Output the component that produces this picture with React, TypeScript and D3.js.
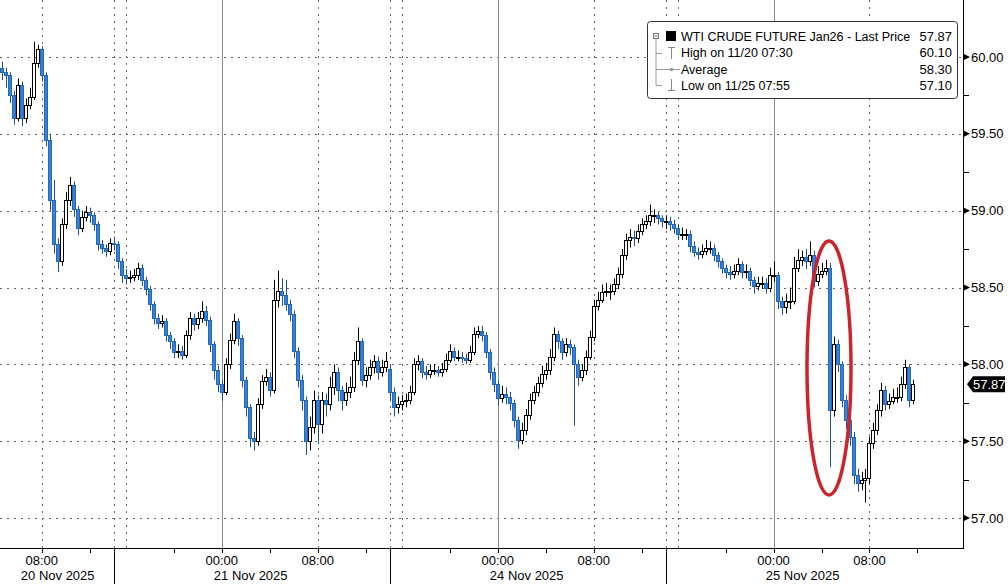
import React from 'react';
import * as d3 from 'd3';

// ---------- DATA ----------
// 20-minute bars, open = previous close
const S1_START = new Date(2025, 10, 20, 4, 20);
const S1_OPEN = 59.95;
const S1_CLOSE = [59.93, 59.90, 59.88, 59.75, 59.60, 59.82, 59.60, 59.69, 59.74, 59.96, 60.05, 59.88, 59.46, 59.07, 58.78, 58.67, 58.91, 59.07, 59.17, 59.01, 58.89, 58.96, 58.99, 58.97, 58.91, 58.78, 58.76, 58.74, 58.79];
const S1_HIGH = [59.99, 59.97, 59.93, 59.90, 59.78, 59.86, 59.84, 59.73, 59.80, 60.10, 60.08, 60.07, 59.90, 59.50, 59.20, 58.82, 58.95, 59.12, 59.22, 59.19, 59.03, 59.00, 59.03, 59.02, 58.99, 58.93, 58.81, 58.78, 58.82];
const S1_LOW = [59.88, 59.85, 59.80, 59.70, 59.56, 59.58, 59.55, 59.57, 59.66, 59.72, 59.93, 59.84, 59.42, 59.00, 58.72, 58.60, 58.64, 58.88, 59.03, 58.96, 58.84, 58.86, 58.93, 58.92, 58.87, 58.74, 58.72, 58.70, 58.71];

const S2_START = new Date(2025, 10, 20, 15, 0);
const S2_OPEN = 58.79;
const S2_CLOSE = [58.78, 58.67, 58.58, 58.56, 58.57, 58.58, 58.63, 58.55, 58.49, 58.39,
  58.30, 58.27, 58.28, 58.19, 58.15, 58.08, 58.09, 58.06, 58.19, 58.30,
  58.26, 58.30, 58.35, 58.29, 58.13, 57.96, 57.87, 57.82, 58.00, 58.16,
  58.28, 58.17, 57.90, 57.72, 57.52, 57.50, 57.74, 57.89, 57.92, 57.83,
  58.42, 58.48, 58.45, 58.39, 58.33, 58.09, 57.90, 57.77, 57.50, 57.59,
  57.77, 57.61, 57.77, 57.74, 57.85, 57.95, 57.83, 57.77, 57.82, 57.85,
  58.03, 58.15, 57.90, 57.93, 57.98, 58.02, 57.95, 57.98, 58.02];
const S2_HIGH = [58.83, 58.80, 58.69, 58.62, 58.61, 58.62, 58.66, 58.65, 58.57, 58.51,
  58.41, 58.33, 58.32, 58.30, 58.21, 58.17, 58.13, 58.12, 58.22, 58.34,
  58.33, 58.34, 58.41, 58.38, 58.31, 58.15, 57.99, 57.90, 58.04, 58.20,
  58.33, 58.30, 58.19, 57.92, 57.74, 57.56, 57.78, 57.93, 57.97, 57.95,
  58.55, 58.61, 58.56, 58.55, 58.42, 58.35, 58.11, 57.93, 57.79, 57.66,
  57.83, 57.80, 57.82, 57.81, 57.92, 58.00, 57.98, 57.86, 57.88, 57.92,
  58.08, 58.24, 58.17, 57.98, 58.03, 58.06, 58.05, 58.03, 58.08];
const S2_LOW = [58.74, 58.62, 58.53, 58.52, 58.53, 58.54, 58.55, 58.51, 58.45, 58.35,
  58.26, 58.23, 58.24, 58.15, 58.10, 58.04, 58.04, 58.03, 58.04, 58.16,
  58.22, 58.23, 58.27, 58.25, 58.08, 57.90, 57.82, 57.76, 57.80, 57.97,
  58.13, 58.12, 57.85, 57.66, 57.46, 57.44, 57.47, 57.71, 57.86, 57.79,
  57.81, 58.37, 58.38, 58.35, 58.28, 58.04, 57.85, 57.70, 57.41, 57.44,
  57.55, 57.48, 57.55, 57.66, 57.70, 57.80, 57.76, 57.70, 57.73, 57.78,
  57.82, 58.00, 57.86, 57.85, 57.90, 57.94, 57.90, 57.92, 57.95];

const S3_START = new Date(2025, 10, 23, 15, 0);
const S3_OPEN = 57.97;
const S3_CLOSE = [57.82, 57.72, 57.74, 57.76, 57.77, 57.82, 58.00, 58.02, 57.95, 57.94,
  57.96, 57.96, 57.95, 57.97, 58.03, 58.09, 58.05, 58.05, 58.04, 58.03,
  58.08, 58.20, 58.22, 58.19, 58.08, 57.95, 57.87, 57.78, 57.81, 57.79,
  57.75, 57.64, 57.51, 57.57, 57.67, 57.77, 57.82, 57.88, 57.94, 57.96,
  58.05, 58.20, 58.15, 58.08, 58.13, 58.11, 58.00, 57.92, 57.96, 58.05,
  58.18, 58.38, 58.42, 58.47, 58.48, 58.48, 58.52, 58.59, 58.71, 58.81,
  58.83, 58.82, 58.87, 58.91, 58.93, 58.97, 58.97, 58.95, 58.93];
const S3_HIGH = [58.00, 57.85, 57.79, 57.80, 57.81, 57.86, 58.04, 58.06, 58.04, 57.99,
  58.00, 58.00, 57.99, 58.01, 58.07, 58.13, 58.11, 58.09, 58.08, 58.07,
  58.12, 58.24, 58.25, 58.25, 58.21, 58.10, 57.98, 57.90, 57.86, 57.85,
  57.82, 57.77, 57.66, 57.62, 57.71, 57.81, 57.86, 57.92, 57.99, 58.01,
  58.10, 58.24, 58.22, 58.17, 58.17, 58.16, 58.13, 58.03, 58.00, 58.09,
  58.22, 58.42, 58.47, 58.52, 58.53, 58.52, 58.56, 58.63, 58.75, 58.85,
  58.88, 58.87, 58.91, 58.95, 58.97, 59.04, 59.01, 58.99, 58.97];
const S3_LOW = [57.76, 57.66, 57.68, 57.70, 57.72, 57.74, 57.80, 57.96, 57.91, 57.90,
  57.91, 57.93, 57.92, 57.92, 57.95, 58.01, 58.02, 58.02, 58.01, 58.00,
  58.01, 58.06, 58.17, 58.15, 58.04, 57.90, 57.82, 57.73, 57.75, 57.74,
  57.70, 57.59, 57.45, 57.48, 57.54, 57.64, 57.74, 57.79, 57.85, 57.90,
  57.93, 58.02, 58.10, 58.03, 58.05, 58.06, 57.60, 57.86, 57.89, 57.93,
  58.03, 58.15, 58.35, 58.40, 58.44, 58.42, 58.45, 58.49, 58.56, 58.68,
  58.76, 58.77, 58.79, 58.84, 58.88, 58.90, 58.92, 58.91, 58.89];

const S4_START = new Date(2025, 10, 24, 15, 0);
const S4_OPEN = 58.93;
const S4_CLOSE = [58.93, 58.91, 58.89, 58.85, 58.85, 58.85, 58.77, 58.73, 58.72, 58.74,
  58.76, 58.76, 58.71, 58.67, 58.63, 58.60, 58.59, 58.61, 58.65, 58.60,
  58.61, 58.55, 58.51, 58.53, 58.53, 58.50, 58.58, 58.58, 58.41, 58.37,
  58.41, 58.41, 58.63, 58.68, 58.70, 58.67, 58.71, 58.54, 58.59, 58.61,
  58.63, 57.70, 58.13, 58.00, 57.77, 57.64, 57.53, 57.28, 57.23, 57.25,
  57.26, 57.49, 57.57, 57.70, 57.83, 57.74, 57.76, 57.79, 57.79, 57.87,
  57.98, 57.77, 57.87];
const S4_HIGH = [58.97, 58.96, 58.94, 58.91, 58.89, 58.88, 58.87, 58.80, 58.76, 58.78,
  58.81, 58.80, 58.78, 58.73, 58.69, 58.65, 58.64, 58.65, 58.69, 58.67,
  58.65, 58.63, 58.57, 58.57, 58.57, 58.56, 58.63, 58.67, 58.60, 58.44,
  58.46, 58.50, 58.70, 58.75, 58.74, 58.75, 58.80, 58.74, 58.64, 58.66,
  58.68, 58.66, 58.18, 58.16, 58.02, 57.80, 57.67, 57.56, 57.32, 57.30,
  57.32, 57.53, 57.62, 57.74, 57.88, 57.86, 57.81, 57.84, 57.85, 57.92,
  58.03, 58.00, 57.90];
const S4_LOW = [58.88, 58.87, 58.85, 58.81, 58.81, 58.81, 58.73, 58.70, 58.68, 58.69,
  58.71, 58.72, 58.67, 58.63, 58.59, 58.56, 58.55, 58.56, 58.58, 58.56,
  58.56, 58.51, 58.46, 58.48, 58.49, 58.46, 58.47, 58.54, 58.36, 58.32,
  58.33, 58.36, 58.39, 58.60, 58.64, 58.62, 58.64, 58.50, 58.51, 58.56,
  58.58, 57.33, 57.66, 57.95, 57.72, 57.58, 57.47, 57.22, 57.17, 57.18,
  57.10, 57.22, 57.45, 57.54, 57.66, 57.70, 57.71, 57.74, 57.75, 57.76,
  57.84, 57.72, 57.74];

const BAR_MINUTES = 20;
const LAST_PRICE = 57.87;

const Y_MAJOR = [57.0, 57.5, 58.0, 58.5, 59.0, 59.5, 60.0];
const Y_MINOR = [57.25, 57.75, 58.25, 58.75, 59.25, 59.75];

// trading-time axis (session breaks removed)
const X_DOMAIN = [
  new Date(2025, 10, 20, 4, 30), new Date(2025, 10, 20, 14, 0),
  new Date(2025, 10, 20, 15, 0), new Date(2025, 10, 21, 14, 0),
  new Date(2025, 10, 23, 15, 0), new Date(2025, 10, 24, 14, 0),
  new Date(2025, 10, 24, 15, 0), new Date(2025, 10, 25, 15, 48),
];

const TIME_LABELS = [
  { t: new Date(2025, 10, 20, 8, 0), label: '08:00' },
  { t: new Date(2025, 10, 21, 0, 0), label: '00:00' },
  { t: new Date(2025, 10, 21, 8, 0), label: '08:00' },
  { t: new Date(2025, 10, 24, 0, 0), label: '00:00' },
  { t: new Date(2025, 10, 24, 8, 0), label: '08:00' },
  { t: new Date(2025, 10, 25, 0, 0), label: '00:00' },
  { t: new Date(2025, 10, 25, 8, 0), label: '08:00' },
];
const DATE_LABELS = [
  { t: new Date(2025, 10, 20, 9, 20), label: '20 Nov 2025' },
  { t: new Date(2025, 10, 21, 2, 25), label: '21 Nov 2025' },
  { t: new Date(2025, 10, 24, 2, 25), label: '24 Nov 2025' },
  { t: new Date(2025, 10, 25, 2, 25), label: '25 Nov 2025' },
];
const MIDNIGHTS = [new Date(2025, 10, 21, 0, 0), new Date(2025, 10, 24, 0, 0), new Date(2025, 10, 25, 0, 0)];
const DOTTED_V = [
  new Date(2025, 10, 20, 8, 0), new Date(2025, 10, 20, 14, 0), new Date(2025, 10, 20, 16, 0),
  new Date(2025, 10, 21, 8, 0), new Date(2025, 10, 21, 14, 0), new Date(2025, 10, 23, 16, 0),
  new Date(2025, 10, 24, 8, 0), new Date(2025, 10, 24, 14, 0), new Date(2025, 10, 24, 16, 0),
  new Date(2025, 10, 25, 8, 0),
];
const SESSION_BREAKS = [new Date(2025, 10, 20, 14, 0), new Date(2025, 10, 21, 14, 0), new Date(2025, 10, 24, 14, 0)];
const MINOR_X = [
  new Date(2025, 10, 20, 12, 0), new Date(2025, 10, 20, 20, 0), new Date(2025, 10, 21, 4, 0),
  new Date(2025, 10, 21, 12, 0), new Date(2025, 10, 23, 20, 0), new Date(2025, 10, 24, 4, 0),
  new Date(2025, 10, 24, 12, 0), new Date(2025, 10, 24, 20, 0), new Date(2025, 10, 25, 4, 0),
  new Date(2025, 10, 25, 12, 0),
];

const LEGEND_ROWS = [
  { label: 'WTI CRUDE FUTURE Jan26 - Last Price', value: '57.87' },
  { label: 'High on 11/20 07:30', value: '60.10' },
  { label: 'Average', value: '58.30' },
  { label: 'Low on 11/25 07:55', value: '57.10' },
];

const SESSIONS = [
  { start: S1_START, open: S1_OPEN, close: S1_CLOSE, high: S1_HIGH, low: S1_LOW },
  { start: S2_START, open: S2_OPEN, close: S2_CLOSE, high: S2_HIGH, low: S2_LOW },
  { start: S3_START, open: S3_OPEN, close: S3_CLOSE, high: S3_HIGH, low: S3_LOW },
  { start: S4_START, open: S4_OPEN, close: S4_CLOSE, high: S4_HIGH, low: S4_LOW },
];

// ---------- CHART ----------
const W = 1008, H = 584;
const PLOT_R = 963, PLOT_B = 548;
const FONT = '"Liberation Sans", Arial, sans-serif';
const BLUE = '#3583da';

type Bar = { t: Date; o: number; h: number; l: number; c: number };

function buildBars(): Bar[] {
  const bars: Bar[] = [];
  for (const s of SESSIONS) {
    let prev = s.open;
    s.close.forEach((c, i) => {
      bars.push({ t: d3.timeMinute.offset(s.start, BAR_MINUTES * i), o: prev, h: s.high[i], l: s.low[i], c });
      prev = c;
    });
  }
  return bars;
}

export default function App() {
  const x = d3.scaleTime<number>().domain(X_DOMAIN).range([-0.3, 113.7, 113.7, 389.7, 389.7, 665.7, 665.7, 963]);
  const y = d3.scaleLinear().domain([57, 60]).range([518, 57]);
  const bars = buildBars();
  const px = (v: number) => Math.round(v) + 0.5;

  const lastY = y(LAST_PRICE);

  return (
    <svg width={W} height={H} style={{ position: 'absolute', left: 0, top: 0, background: '#fff' }} fontFamily={FONT}>
      <defs>
        <clipPath id="plot"><rect x={0} y={0} width={PLOT_R} height={PLOT_B} /></clipPath>
      </defs>
      <rect x={0} y={0} width={W} height={H} fill="#fff" />
      {/* horizontal grid */}
      {Y_MAJOR.map((v) => (
        <line key={'hg' + v} x1={0} x2={PLOT_R} y1={px(y(v))} y2={px(y(v))} stroke="#666" strokeDasharray="2,5" />
      ))}
      {/* vertical grid */}
      {DOTTED_V.map((t, i) => (
        <line key={'vg' + i} x1={px(x(t))} x2={px(x(t))} y1={0} y2={PLOT_B} stroke="#666" strokeDasharray="2,5" />
      ))}
      {MIDNIGHTS.map((t, i) => (
        <line key={'mn' + i} x1={px(x(t))} x2={px(x(t))} y1={0} y2={PLOT_B} stroke="#8a8a8a" strokeWidth={1} />
      ))}

      {/* candles */}
      <g clipPath="url(#plot)">
        {bars.map((b, i) => {
          const cx = Math.round(x(b.t));
          const up = b.c >= b.o;
          const top = Math.round(y(Math.max(b.o, b.c)));
          const bot = Math.round(y(Math.min(b.o, b.c)));
          const hy = y(Math.max(b.h, b.o, b.c));
          const ly = y(Math.min(b.l, b.o, b.c));
          return (
            <g key={i}>
              <line x1={cx + 0.5} x2={cx + 0.5} y1={hy} y2={ly} stroke={up ? '#000' : '#1d4f94'} strokeWidth={1} />
              <rect x={cx - 1.5} y={top + 0.5} width={3} height={Math.max(1, bot - top)}
                fill={up ? '#fff' : BLUE} stroke={up ? '#000' : '#2566b5'} strokeWidth={1} />
            </g>
          );
        })}
      </g>

      {/* red ellipse */}
      <ellipse cx={829} cy={368} rx={22} ry={127} fill="none" stroke="#c9252b" strokeWidth={3.5} />

      {/* right axis */}
      <line x1={PLOT_R + 0.5} x2={PLOT_R + 0.5} y1={0} y2={PLOT_B} stroke="#000" />
      {Y_MAJOR.map((v) => {
        const yy = y(v);
        return (
          <g key={'yt' + v}>
            <path d={`M${PLOT_R},${yy - 3.5}L${PLOT_R + 7},${yy}L${PLOT_R},${yy + 3.5}Z`} fill="#000" />
            <text x={971} y={yy + 4.5} fontSize={13} fill="#000">{v.toFixed(2)}</text>
          </g>
        );
      })}
      {Y_MINOR.map((v) => (
        <line key={'ym' + v} x1={PLOT_R} x2={PLOT_R + 6} y1={px(y(v))} y2={px(y(v))} stroke="#000" />
      ))}
      {/* last price tag */}
      <path d={`M${967},${lastY}L${973},${lastY - 8}L${1005},${lastY - 8}L${1005},${lastY + 8}L${973},${lastY + 8}Z`} fill="#000" />
      <text x={973} y={lastY + 4.5} fontSize={13} fill="#fff">{LAST_PRICE.toFixed(2)}</text>

      {/* bottom axis */}
      <line x1={0} x2={PLOT_R + 1} y1={PLOT_B + 0.5} y2={PLOT_B + 0.5} stroke="#000" />
      {MINOR_X.map((t, i) => (
        <line key={'mx' + i} x1={px(x(t))} x2={px(x(t))} y1={PLOT_B} y2={PLOT_B + 5} stroke="#000" />
      ))}
      {TIME_LABELS.map((d, i) => (
        <g key={'tl' + i}>
          <line x1={px(x(d.t))} x2={px(x(d.t))} y1={PLOT_B} y2={PLOT_B + 5} stroke="#000" />
          <text x={x(d.t)} y={565} fontSize={13} textAnchor="middle" fill="#000">{d.label}</text>
        </g>
      ))}
      {DATE_LABELS.map((d, i) => (
        <text key={'dl' + i} x={x(d.t)} y={580} fontSize={13} textAnchor="middle" fill="#000">{d.label}</text>
      ))}
      {SESSION_BREAKS.map((t, i) => (
        <line key={'sb' + i} x1={px(x(t))} x2={px(x(t))} y1={PLOT_B} y2={H} stroke="#000" />
      ))}

      {/* legend */}
      <rect x={647.5} y={21.5} width={310} height={77} rx={3} fill="#fff" stroke="#333" />
      <rect x={653.5} y={33.5} width={5} height={5} fill="#fff" stroke="#777" />
      <line x1={654.5} x2={657.5} y1={36} y2={36} stroke="#777" />
      <line x1={656} x2={656} y1={39} y2={85} stroke="#999" />
      {[53, 69, 85].map((yy) => (
        <line key={'tr' + yy} x1={656} x2={662} y1={yy + 0.5} y2={yy + 0.5} stroke="#999" />
      ))}
      <rect x={666} y={31} width={10} height={10} fill="#000" />
      {/* high icon */}
      <line x1={671.5} x2={671.5} y1={47} y2={59} stroke="#888" />
      <line x1={668} x2={675} y1={47.5} y2={47.5} stroke="#888" />
      {/* average icon */}
      <line x1={662} x2={680} y1={69.5} y2={69.5} stroke="#999" />
      <circle cx={671.5} cy={69.5} r={1.8} fill="#999" />
      {/* low icon */}
      <line x1={671.5} x2={671.5} y1={79} y2={91} stroke="#888" />
      <line x1={668} x2={675} y1={90.5} y2={90.5} stroke="#888" />
      {LEGEND_ROWS.map((r, i) => (
        <g key={'lg' + i}>
          <text x={681} y={41 + i * 16.3} fontSize={12.5} fill="#000">{r.label}</text>
          <text x={952} y={41 + i * 16.3} fontSize={13} textAnchor="end" fill="#000">{r.value}</text>
        </g>
      ))}
    </svg>
  );
}
